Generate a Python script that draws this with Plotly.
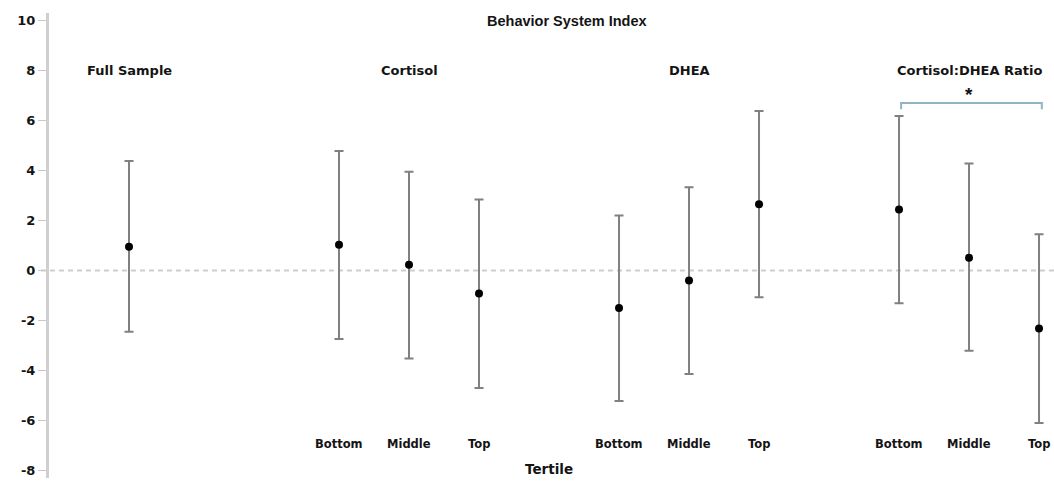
import plotly.graph_objects as go

# Group layout along the x axis
groups = ["Full Sample", "Cortisol", "DHEA", "Cortisol:DHEA Ratio"]
group_centers = [0, 4, 8, 12]
positions = [0, 3, 4, 5, 7, 8, 9, 11, 12, 13]
tertile_labels = ["", "Bottom", "Middle", "Top", "Bottom", "Middle", "Top", "Bottom", "Middle", "Top"]

# Estimated means and confidence limits
means = [0.95, 1.03, 0.23, -0.92, -1.50, -0.40, 2.65, 2.44, 0.51, -2.32]
upper = [4.38, 4.78, 3.95, 2.84, 2.20, 3.33, 6.38, 6.18, 4.28, 1.45]
lower = [-2.45, -2.74, -3.52, -4.70, -5.22, -4.14, -1.07, -1.31, -3.21, -6.10]

y_ticks = [-8, -6, -4, -2, 0, 2, 4, 6, 8, 10]

err_plus = [u - m for u, m in zip(upper, means)]
err_minus = [m - l for m, l in zip(means, lower)]

fig = go.Figure()

# zero reference line
fig.add_shape(type="line", xref="paper", yref="y", x0=-0.008, x1=1, y0=0, y1=0,
              line=dict(color="#cdcdcd", width=2, dash="5px,4px"), layer="below")

fig.add_trace(go.Scatter(
    x=positions, y=means, mode="markers",
    marker=dict(color="black", size=8),
    error_y=dict(type="data", symmetric=False, array=err_plus, arrayminus=err_minus,
                 color="#808080", thickness=2, width=4.5),
    showlegend=False, hoverinfo="skip",
))

wide_font = "DejaVu Sans, Verdana, sans-serif"
title_font = "Liberation Sans, Arial, sans-serif"
text_color = "#141414"

annotations = [
    dict(x=6.25, y=10, text="<b>Behavior System Index</b>", font=dict(size=14.5, family=title_font)),
]
for g, c in zip(groups, group_centers):
    annotations.append(dict(x=c, y=8, text=f"<b>{g}</b>", font=dict(size=13, family=wide_font)))
for p, t in zip(positions, tertile_labels):
    if t:
        annotations.append(dict(x=p, y=-6.95, text=f"<b>{t}</b>", font=dict(size=11.5, family=wide_font)))
annotations.append(dict(x=6, y=-7.95, text="<b>Tertile</b>", font=dict(size=13.5, family=wide_font)))
annotations.append(dict(x=12, y=7.05, text="<b>*</b>", font=dict(size=19, family=title_font)))
for a in annotations:
    a.update(xref="x", yref="y", showarrow=False, xanchor="center", yanchor="middle")
    a["font"].update(color=text_color)

# significance bracket between bottom and top ratio tertiles
bx0, bx1, by = 11.03, 13.04, 6.7
fig.add_shape(type="path", xref="x", yref="y",
              path=f"M {bx0},{by - 0.25} L {bx0},{by} L {bx1},{by} L {bx1},{by - 0.25}",
              line=dict(color="#8fb4c2", width=2))

fig.update_layout(
    width=1054, height=481,
    margin=dict(l=49, r=0, t=13, b=3),
    paper_bgcolor="white", plot_bgcolor="white",
    annotations=annotations,
    xaxis=dict(range=[-1.143, 13.214], visible=False, showgrid=False, zeroline=False),
    yaxis=dict(
        range=[-8.3, 10.3], tickvals=y_ticks, ticktext=[f"<b>{v}</b>" for v in y_ticks],
        showgrid=False, zeroline=False, showline=True, linecolor="#cfcfcf", linewidth=3,
        ticks="outside", ticklen=8, tickcolor="#c8c8c8", tickwidth=1,
        tickfont=dict(family=wide_font, size=13, color=text_color),
    ),
)

fig.write_html("out.html")
